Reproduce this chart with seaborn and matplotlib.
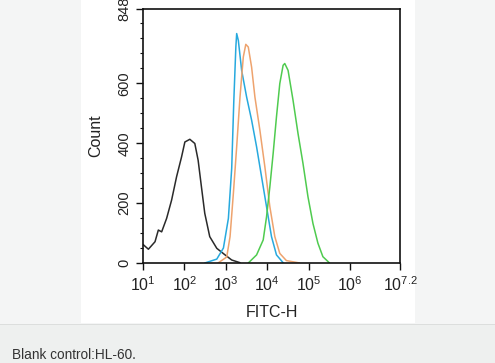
import matplotlib
matplotlib.use("Agg")
import matplotlib.pyplot as plt
import matplotlib.ticker as mticker
from matplotlib.patches import Rectangle
import numpy as np
import pandas as pd
import seaborn as sns

# log10(FITC-H) positions and counts
blank_x = [1.0, 1.13, 1.29, 1.37, 1.45, 1.57, 1.69, 1.81, 1.93, 2.01, 2.13, 2.25, 2.33,
           2.41, 2.49, 2.61, 2.78, 2.98, 3.14, 3.34]
blank_y = [62, 46, 71, 110, 104, 149, 210, 288, 354, 404, 413, 399, 343,
           254, 166, 88, 49, 27, 10, 1]
cyan_x = [2.49, 2.78, 2.94, 3.06, 3.14, 3.19, 3.24, 3.26, 3.30, 3.38, 3.50, 3.62, 3.74,
          3.86, 3.98, 4.10, 4.22, 4.38]
cyan_y = [0, 13, 50, 149, 316, 538, 721, 766, 743, 643, 554, 477, 388,
          288, 188, 88, 27, 1]
orange_x = [2.81, 3.02, 3.10, 3.18, 3.26, 3.34, 3.42, 3.48, 3.54, 3.62, 3.70, 3.82, 3.94,
            4.06, 4.18, 4.30, 4.46, 4.78]
orange_y = [0, 20, 88, 232, 388, 554, 688, 730, 721, 654, 554, 443, 321,
            188, 88, 32, 8, 0]
green_x = [3.54, 3.74, 3.90, 3.98, 4.06, 4.14, 4.22, 4.30, 4.38, 4.42, 4.50, 4.62, 4.74,
           4.86, 4.98, 5.10, 5.22, 5.34, 5.50]
green_y = [0, 27, 77, 154, 254, 366, 488, 599, 660, 666, 643, 543, 432,
           332, 221, 132, 66, 21, 0]

series = {"blank": (blank_x, blank_y), "cyan": (cyan_x, cyan_y),
          "orange": (orange_x, orange_y), "green": (green_x, green_y)}
colors = {"blank": "#2a2a2a", "cyan": "#27a9de", "orange": "#eea36e", "green": "#4fcb4f"}

rows = []
for name, (xs, ys) in series.items():
    for i, (lx, c) in enumerate(zip(xs, ys)):
        rows.append({"sample": name, "order": i, "fitc": 10 ** lx, "count": c})
df = pd.DataFrame(rows)

sns.set_style("ticks")
plt.rcParams["font.family"] = ["Liberation Sans", "DejaVu Sans"]
plt.rcParams["mathtext.fontset"] = "custom"
plt.rcParams["mathtext.rm"] = "Liberation Sans"
plt.rcParams["mathtext.it"] = "Liberation Sans"

fig = plt.figure(figsize=(4.95, 3.63), dpi=100, facecolor="#f4f5f5")
W, H = 495, 363
# white image panel and caption strip (behind the axes)
fig.patches.append(Rectangle((81 / W, (H - 323) / H), 334 / W, 323 / H,
                             transform=fig.transFigure, facecolor="white", edgecolor="none", zorder=-2))
fig.patches.append(Rectangle((0, 0), 1, (H - 325) / H, transform=fig.transFigure,
                             facecolor="#eef0ef", edgecolor="none", zorder=-2))
fig.patches.append(Rectangle((0, (H - 325) / H), 1, 1.5 / H, transform=fig.transFigure,
                             facecolor="#dcdedd", edgecolor="none", zorder=-2))

ax = fig.add_axes([143 / W, (H - 263) / H, 257 / W, 254 / H])
ax.set_facecolor("white")
sns.lineplot(data=df, x="fitc", y="count", hue="sample", units="sample", estimator=None,
             sort=False, palette=colors, linewidth=1.1, legend=False, ax=ax)
ax.set_xscale("log")
ax.set_xlim(10, 10 ** 7.2)
ax.set_ylim(0, 848)

xt = [10, 100, 1e3, 1e4, 1e5, 1e6, 10 ** 7.2]
xl = ["$\\mathrm{10^{1}}$", "$\\mathrm{10^{2}}$", "$\\mathrm{10^{3}}$", "$\\mathrm{10^{4}}$",
      "$\\mathrm{10^{5}}$", "$\\mathrm{10^{6}}$", "$\\mathrm{10^{7.2}}$"]
ax.set_xticks(xt)
ax.set_xticklabels(xl, fontsize=11.5, color="#222")
ax.xaxis.set_minor_locator(mticker.LogLocator(base=10, subs=np.arange(2, 10)))
ax.xaxis.set_minor_formatter(mticker.NullFormatter())

ax.set_yticks([0, 200, 400, 600, 848])
ax.set_yticklabels(["0", "200", "400", "600", "848"], rotation=90, va="center",
                   fontsize=10.5, color="#222")
ax.yaxis.set_minor_locator(mticker.MultipleLocator(50))

ax.tick_params(which="major", length=5, width=1, color="#111")
ax.tick_params(which="minor", length=2.5, width=0.8, color="#111")
ax.tick_params(axis="x", which="major", pad=4)
for s in ax.spines.values():
    s.set_color("#111")
    s.set_linewidth(1.2)

ax.set_xlabel("FITC-H", fontsize=11.5, color="#222", labelpad=8)
ax.set_ylabel("Count", fontsize=11.5, color="#222", labelpad=10)

fig.text(12 / W, (H - 355) / H, "Blank control:HL-60.", fontsize=9.8, color="#333",
         va="center", ha="left")

fig.savefig("out.png", dpi=100, facecolor=fig.get_facecolor())
